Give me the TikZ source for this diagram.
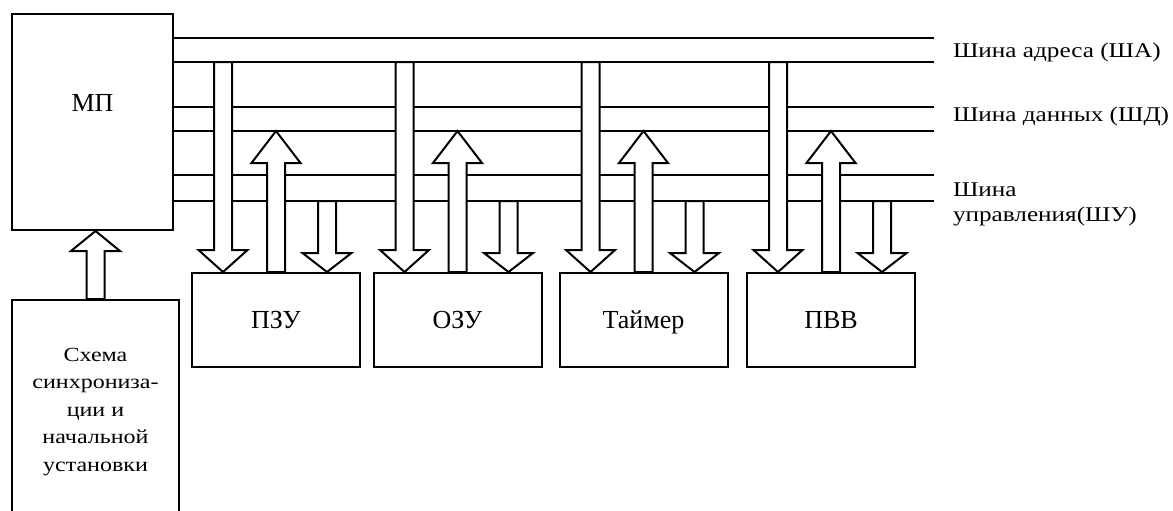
\documentclass[tikz,border=0pt]{standalone}
\usepackage{fontspec}
\setmainfont{Liberation Serif}
\newfontfamily\widefont[FakeStretch=1.2]{Liberation Serif}
\usepackage{tikz}
\usetikzlibrary{calc}

\newcommand{\blockarrow}[3][22]{%
  \draw[hollowarrow] let \p1=(#2), \p2=(#3),
    \n1={ifthenelse(\y2<\y1,1,-1)*#1*0.5pt} in
    (\x1-4.5pt,\y1) -- (\x1-4.5pt,{\y2+(\n1)}) -- (\x1-12.25pt,{\y2+(\n1)})
    -- (\x1,\y2) -- (\x1+12.25pt,{\y2+(\n1)}) -- (\x1+4.5pt,{\y2+(\n1)})
    -- (\x1+4.5pt,\y1) -- cycle;}

\begin{document}
\begin{tikzpicture}[x=0.5pt, y=-0.5pt, line width=1pt,
  unitbox/.style={draw, minimum width=84pt, minimum height=47pt, inner sep=0pt,
    text height=8.6pt, text depth=0pt, font=\fontsize{13}{15}\selectfont},
  hollowarrow/.style={fill=white, line join=miter},
  buslabel/.style={inner sep=0pt, align=left, font=\widefont\fontsize{10.5}{12.5}\selectfont}]
\clip (0,0) rectangle (1173,510);

\node[draw, minimum width=80.5pt, minimum height=108pt] (mp) at (92.5,122) {};
\node[font=\fontsize{13}{15}\selectfont] (mplabel) at ([yshift=9.5pt]mp.center) {МП};

\node[draw, minimum width=83.5pt, minimum height=112pt, align=center,
  font=\widefont\fontsize{10}{13.75}\selectfont] (sync) at (95.5,412)
  {Схема\\синхрониза-\\ции и\\начальной\\установки};

\node[unitbox] (rom) at (276,320) {ПЗУ};
\node[unitbox] (ram) at (457.5,320) {ОЗУ};
\node[unitbox] (timer) at (643.5,320) {Таймер};
\node[unitbox] (pio) at (831,320) {ПВВ};

\foreach \n/\y in {a1/38,a2/62,d1/107,d2/131,c1/175,c2/201}{
  \coordinate (bus\n) at (934,\y);
  \draw (mp.east |- bus\n) -- (bus\n);
}

\node[buslabel, anchor=base west] (lbla) at (952,57.5) {Шина адреса (ША)};
\node[buslabel, anchor=base west] (lbld) at (952,121.5) {Шина данных (ШД)};
\node[buslabel, anchor=north west] (lblc) at (952,182) {Шина\\управления(ШУ)};

\foreach \dev in {rom,ram,timer,pio}{
  \coordinate (\dev-addr) at ($(\dev.north)+(-53,0)$);
  \coordinate (\dev-ctrl) at ($(\dev.north)+(51,0)$);
  \blockarrow{\dev-addr |- busa2}{\dev-addr}
  \blockarrow[32]{\dev.north}{\dev.north |- busd2}
  \blockarrow[19]{\dev-ctrl |- busc2}{\dev-ctrl}
}
\blockarrow[20]{sync.north}{sync.north |- mp.south}

\end{tikzpicture}
\end{document}
